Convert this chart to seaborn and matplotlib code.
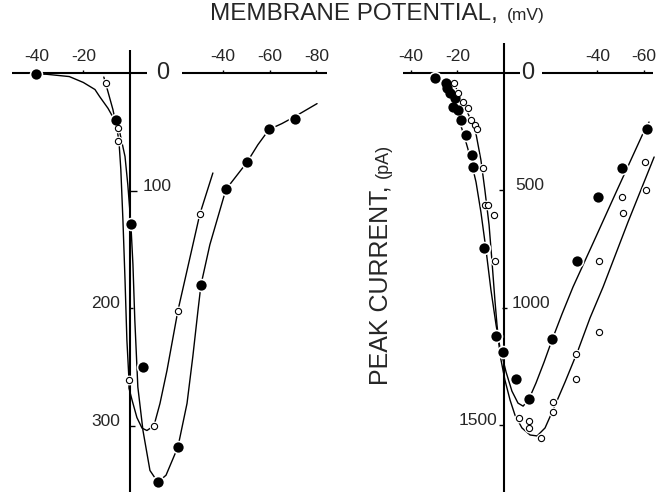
import matplotlib
matplotlib.use("Agg")
import matplotlib.pyplot as plt
import seaborn as sns

sns.set_style("white")
plt.rcParams['font.family'] = ['Liberation Sans', 'DejaVu Sans']

# ---------------- data (membrane potential in mV, peak current in pA) -------------
# left panel
left_filled_mv = [-40.3, -6.0, 0.4, 5.6, 12.0, 20.6, 30.5, 41.2, 50.2, 59.7, 70.8]
left_filled_pa = [1, 40, 128, 250, 348, 318, 180, 99, 76, 48, 39]
left_open_mv = [-10.3, -5.2, -5.2, -0.4, 10.3, 20.6, 30.0]
left_open_pa = [8.5, 47, 58, 261, 300, 202, 120]

left_fit_filled_mv = [-40, -36, -26, -20, -15, -13, -9.4, -7.7, -6, -4.3, -2.1, -0.9, 0.4, 1.3,
                      2.1, 3.4, 5.6, 8.6, 12.0, 15.5, 20.6, 24.5, 27.0, 29.2, 30.5, 34.3, 41.2,
                      45.9, 50.2, 54.9, 59.7, 65.2, 70.8, 80.3]
left_fit_filled_pa = [1, 1, 3, 8, 14, 20, 30, 36, 40, 51, 71, 95, 128, 163,
                      210, 267, 304, 338, 348, 342, 318, 281, 241, 202, 180, 146, 99,
                      87, 76, 61, 48, 43, 37, 26]
left_fit_open_mv = [-11.2, -9.4, -7.3, -5.6, -4.7, -3.9, -3.0, -2.1, -1.3, -0.4, -0.4, 0.9, 3.0,
                    5.2, 7.3, 10.3, 12.9, 15.9, 20.6, 24.5, 30.0, 35.6]
left_fit_open_pa = [3.4, 16, 31, 47, 58, 82, 125, 176, 227, 261, 268, 278, 293,
                    302, 304, 300, 281, 253, 202, 168, 120, 85]

# right panel
right_filled_mv = [-29.6, -24.9, -24.5, -23.2, -21.0, -21.9, -19.7, -18.5, -16.3, -13.7, -13.3,
                   -8.6, -3.4, -0.4, 5.2, 10.7, 20.6, 31.3, 40.3, 50.6, 61.4]
right_filled_pa = [21, 43, 64, 85, 107, 145, 158, 200, 264, 350, 401,
                   746, 1121, 1189, 1304, 1390, 1134, 801, 529, 405, 239]
right_open_mv = [-21.5, -19.7, -17.6, -15.5, -14.2, -12.4, -11.6, -9.0, -8.2, -6.9, -4.3, -3.9,
                 6.4, 10.7, 10.7, 15.9, 21.0, 21.0, 30.9, 30.9, 40.8, 40.8, 50.6, 51.1, 60.5, 60.9]
right_open_pa = [43, 85, 124, 149, 200, 222, 239, 405, 563, 563, 605, 801,
                 1471, 1484, 1513, 1556, 1403, 1445, 1198, 1305, 801, 1104, 529, 597, 379, 499]

right_fit_filled_mv = [-27.5, -24.9, -22.3, -19.7, -17.2, -14.6, -12.0, -9.9, -7.7, -5.6, -3.4,
                       -1.7, 0.9, 3.4, 6.0, 8.2, 10.7, 13.7, 17.2, 20.6, 24.9, 29.6, 38.2,
                       48.5, 59.7, 62.2]
right_fit_filled_pa = [17, 47, 115, 188, 264, 354, 465, 593, 755, 925, 1074,
                       1172, 1275, 1356, 1407, 1420, 1390, 1322, 1232, 1138, 1027, 912, 725,
                       499, 256, 209]
right_fit_open_mv = [-22.3, -19.7, -17.2, -14.6, -12.0, -9.9, -8.2, -6.4, -5.2, -3.9, -3.0,
                     -1.7, 0.4, 2.6, 4.7, 7.7, 11.2, 14.2, 17.6, 21.0, 26.2, 31.8, 36.9,
                     42.5, 53.2, 64.4]
right_fit_open_pa = [30, 81, 132, 192, 260, 371, 499, 648, 797, 968, 1074,
                     1202, 1309, 1394, 1458, 1513, 1543, 1547, 1513, 1437, 1317, 1181, 1044,
                     912, 635, 358]

# tick values / labels
left_xticks = [-40, -20, 40, 60, 80]
left_xlabels = ["-40", "-20", "-40", "-60", "-80"]
left_yticks = [100, 200, 300]
left_ylabels = ["100", "200", "300"]
right_xticks = [-40, -20, 40, 60]
right_xlabels = ["-40", "-20", "-40", "-60"]
right_yticks = [500, 1000, 1500]
right_ylabels = ["500", "1000", "1500"]

# ---------------- figure ----------------
W, H = 663, 492
fig = plt.figure(figsize=(W / 100, H / 100), dpi=100)
axL = fig.add_axes([5 / W, 0, 330 / W, 452 / H])
axR = fig.add_axes([345 / W, 0, 318 / W, 452 / H])

axL.set_xlim(-53.6, 88.0)
axL.set_ylim(356.3, -28.1)
axR.set_xlim(-68.2, 68.2)
axR.set_ylim(1786, -140.7)

for ax in (axL, axR):
    ax.axis("off")

AX_LW = 1.5
FIT_LW = 1.0


def draw_panel(ax, fits, filled, opened, hsegs, vseg, xticks, xlabels, yticks, ylabels,
               ylab_pos, zero_x, xt_len, yt_spans, label_fs=12.5):
    # axis lines
    for (a, b) in hsegs:
        ax.hlines(0, a, b, color="black", lw=AX_LW, zorder=1)
    ax.vlines(0, vseg[0], vseg[1], color="black", lw=AX_LW, zorder=1)
    # x ticks (short marks above line) and labels
    for xv, lab in zip(xticks, xlabels):
        ax.vlines(xv, -xt_len, 0, color="black", lw=1.0, zorder=1)
        ax.annotate(lab, (xv, 0), xytext=(0, 9), textcoords="offset points",
                    ha="center", va="baseline", fontsize=label_fs)
    ax.annotate("0", (zero_x, 0), ha="center", va="center", fontsize=17)
    # y ticks
    for yv, lab, (x0, x1), (lx, ha) in zip(yticks, ylabels, yt_spans, ylab_pos):
        ax.hlines(yv, x0, x1, color="black", lw=1.0, zorder=1)
        ax.text(lx, yv, lab, ha=ha, va="baseline", fontsize=label_fs)
    # fitted curves
    for (fx, fy) in fits:
        sns.lineplot(x=fx, y=fy, sort=False, estimator=None, color="black",
                     lw=FIT_LW, ax=ax, zorder=2)
    # halos then markers
    sns.scatterplot(x=filled[0], y=filled[1], s=95, color="white", linewidth=0, ax=ax, zorder=3)
    sns.scatterplot(x=opened[0], y=opened[1], s=50, color="white", linewidth=0, ax=ax, zorder=3)
    sns.scatterplot(x=filled[0], y=filled[1], s=55, color="black", linewidth=0, ax=ax, zorder=4)
    sns.scatterplot(x=opened[0], y=opened[1], s=20, color="white", edgecolor="black",
                    linewidth=0.8, ax=ax, zorder=4)


draw_panel(axL,
           fits=[(left_fit_filled_mv, left_fit_filled_pa), (left_fit_open_mv, left_fit_open_pa)],
           filled=(left_filled_mv, left_filled_pa),
           opened=(left_open_mv, left_open_pa),
           hsegs=[(-50.6, 7.3), (22.3, 84.5)],
           vseg=(-19.6, 356.3),
           xticks=left_xticks, xlabels=left_xlabels,
           yticks=left_yticks, ylabels=left_ylabels,
           ylab_pos=[(5.6, "left"), (-4.3, "right"), (-4.3, "right")],
           zero_x=14.2, xt_len=2.6,
           yt_spans=[(0, 3.0), (0, 1.5), (0, 2.2)])

draw_panel(axR,
           fits=[(right_fit_filled_mv, right_fit_filled_pa), (right_fit_open_mv, right_fit_open_pa)],
           filled=(right_filled_mv, right_filled_pa),
           opened=(right_open_mv, right_open_pa),
           hsegs=[(-43.3, 6.9), (16.3, 64.0)],
           vseg=(-128, 1786),
           xticks=right_xticks, xlabels=right_xlabels,
           yticks=right_yticks, ylabels=right_ylabels,
           ylab_pos=[(4.7, "left"), (3.4, "left"), (-3.0, "right")],
           zero_x=10.3, xt_len=13,
           yt_spans=[(-2.0, 0), (-1.0, 1.3), (-2.0, 0)])

# axis titles
fig.text(210 / W, 1 - 20 / H, "MEMBRANE POTENTIAL,", ha="left", va="baseline", fontsize=17.5)
fig.text(507 / W, 1 - 20 / H, "(mV)", ha="left", va="baseline", fontsize=12.5)
fig.text(381 / W, 1 - 385 / H, "PEAK CURRENT,", ha="center", va="bottom",
         rotation=90, fontsize=18)
fig.text(383 / W, 1 - 178 / H, "(pA)", ha="center", va="bottom", rotation=90, fontsize=13)

fig.savefig("out.png", dpi=100, facecolor="white")
